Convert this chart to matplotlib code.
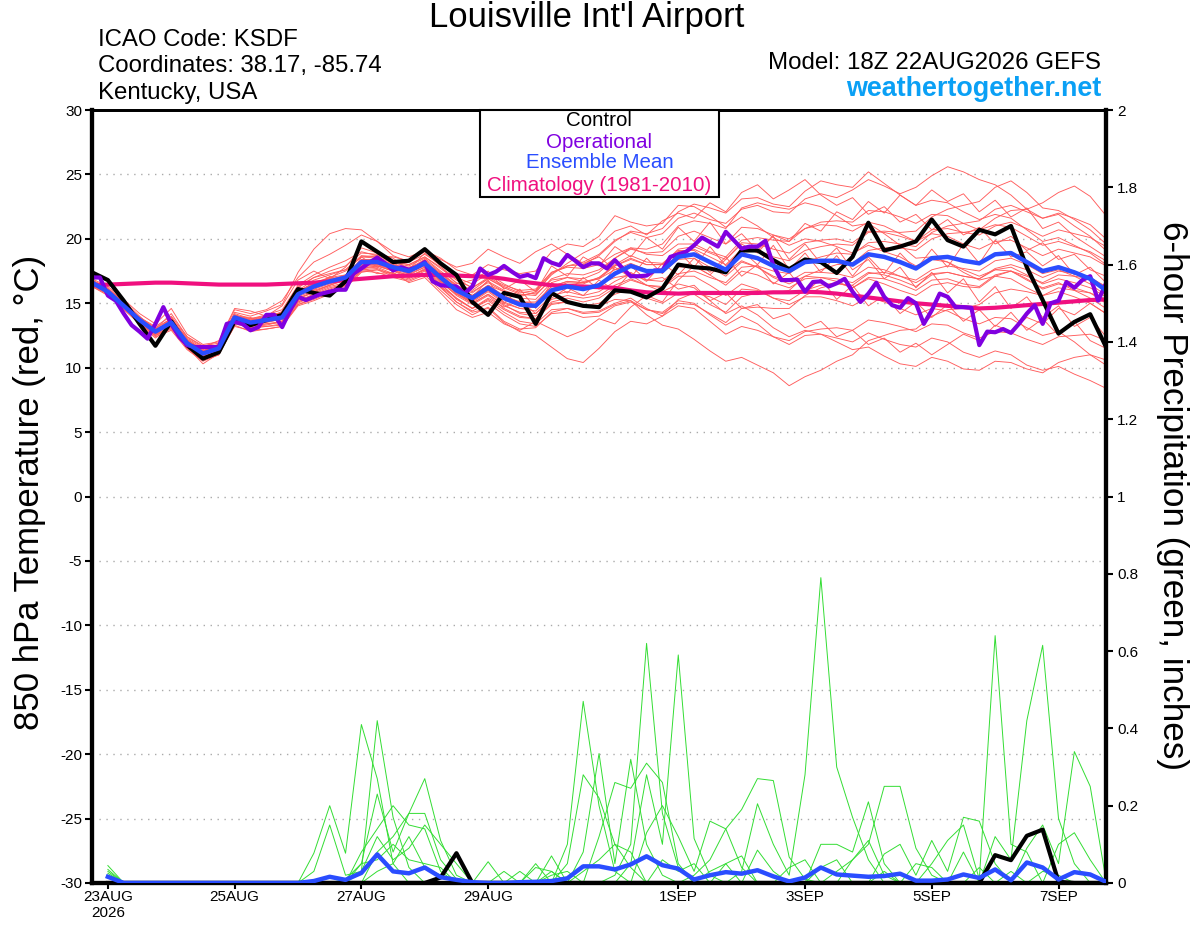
import numpy as np
import matplotlib
matplotlib.use('Agg')
import matplotlib.pyplot as plt
from matplotlib.patches import Rectangle

# plot params
plt.rcParams['font.family'] = ['Liberation Sans', 'DejaVu Sans']
plt.rcParams['axes.unicode_minus'] = False

# time axis in hours after 18Z 22AUG2026 (6-hourly, operational is 3-hourly)
tempHours = np.arange(65) * 6
opHours = np.arange(129) * 3
precHours = np.arange(1, 65) * 6

tickHours = [6, 54, 102, 150, 222, 270, 318, 366]
tickLabels = ['23AUG\n2026', '25AUG', '27AUG', '29AUG', '1SEP', '3SEP', '5SEP', '7SEP']

# 850 hPa temperature (C)
ctlTemp = [17.4, 16.8, 15.2, 13.4, 11.7, 13.6, 11.75, 10.7, 11.2, 13.6, 13.3, 13.7, 14.1,
           16.1, 15.8, 15.6, 16.7, 19.8, 19.0, 18.2, 18.3, 19.2, 18.1, 17.2, 15.1, 14.1,
           15.8, 15.5, 13.4, 15.8, 15.1, 14.8, 14.7, 16.0, 15.9, 15.45, 16.15, 18.0, 17.8,
           17.7, 17.4, 19.1, 19.1, 18.35, 17.65, 18.4, 18.2, 17.35, 18.6, 21.25, 19.1, 19.4,
           19.8, 21.5, 19.9, 19.4, 20.7, 20.35, 21.0, 17.8, 15.25, 12.65, 13.55, 14.15, 11.6]

meanTemp = [16.6, 15.9, 14.8, 13.7, 12.8, 13.5, 11.9, 11.1, 11.5, 13.9, 13.5, 13.7, 13.9,
            15.7, 16.3, 16.7, 17.0, 18.2, 18.2, 17.8, 17.5, 18.1, 17.0, 16.0, 15.4, 16.2,
            15.4, 14.9, 14.8, 16.0, 16.3, 16.1, 16.4, 17.3, 17.9, 17.5, 17.5, 18.6, 18.8,
            18.2, 17.6, 18.8, 18.5, 17.9, 17.5, 18.2, 18.3, 18.3, 18.0, 18.8, 18.6, 18.2,
            17.7, 18.5, 18.6, 18.3, 18.1, 18.8, 18.9, 18.2, 17.5, 17.8, 17.4, 16.9, 16.0]

climTemp = [16.4, 16.45, 16.5, 16.55, 16.6, 16.6, 16.55, 16.5, 16.45, 16.45, 16.45, 16.45, 16.5,
            16.55, 16.6, 16.7, 16.8, 16.9, 17.0, 17.1, 17.15, 17.2, 17.2, 17.15, 17.1, 17.05,
            16.9, 16.7, 16.55, 16.4, 16.35, 16.3, 16.25, 16.2, 16.0, 15.85, 15.8, 15.75, 15.8,
            15.8, 15.8, 15.8, 15.8, 15.85, 15.85, 15.9, 15.85, 15.75, 15.6, 15.45, 15.3, 15.15,
            15.0, 14.9, 14.8, 14.7, 14.6, 14.65, 14.75, 14.85, 14.95, 15.05, 15.15, 15.25, 15.3]

opTemp = [17.0, 17.0, 15.6, 15.2, 14.2, 13.3, 12.8, 12.25, 13.4, 14.7, 13.4, 12.4, 11.75,
          11.6, 11.6, 11.6, 11.6, 13.4, 13.55, 13.4, 12.9, 13.15, 14.1, 14.1, 13.15, 14.45,
          15.5, 15.25, 15.5, 15.75, 15.9, 16.05, 16.05, 17.3, 17.7, 18.15, 18.55, 18.1, 17.55,
          17.8, 17.6, 17.8, 18.2, 16.7, 16.4, 16.35, 16.3, 15.75, 16.3, 17.7, 17.2, 17.45,
          17.9, 17.45, 17.05, 17.2, 16.95, 18.5, 18.15, 17.95, 18.75, 18.3, 17.8, 18.1, 18.1,
          17.7, 18.35, 17.7, 17.1, 17.1, 17.15, 17.55, 17.55, 18.6, 18.8, 19.0, 19.5, 20.1,
          19.75, 19.4, 20.55, 19.9, 19.25, 19.4, 19.4, 19.85, 17.95, 16.8, 16.8, 16.85, 15.9,
          16.65, 16.7, 16.3, 16.55, 16.9, 15.9, 15.1, 15.75, 16.6, 15.5, 14.85, 14.65, 15.4,
          15.0, 13.4, 14.45, 15.75, 15.5, 14.7, 14.7, 14.65, 11.75, 12.8, 12.75, 13.0, 12.7,
          13.4, 14.2, 14.85, 13.4, 15.0, 15.2, 16.65, 16.2, 16.8, 17.1, 15.2, 16.55]

memTemp = [
    [16.8, 16.2, 15.1, 13.9, 12.6, 13.9, 12.2, 11.3, 11.6, 14.2, 13.8, 14.1, 14.5,
     16.4, 17.2, 17.8, 18.3, 19.0, 18.7, 18.2, 18.0, 18.6, 17.8, 16.9, 16.2, 16.9,
     16.3, 15.8, 16.0, 17.4, 17.9, 18.2, 18.8, 19.9, 20.5, 20.1, 20.4, 21.6, 22.0,
     21.5, 21.2, 22.3, 22.6, 22.1, 22.0, 23.1, 23.5, 23.2, 23.8, 24.6, 24.1, 23.5,
     24.0, 24.9, 25.6, 25.2, 24.6, 24.2, 23.4, 22.3, 21.6, 21.9, 21.0, 20.2, 19.1],
    [16.4, 15.7, 14.5, 13.4, 12.3, 13.2, 11.5, 10.6, 11.0, 13.5, 13.1, 13.2, 13.4,
     15.0, 15.6, 16.1, 16.5, 17.6, 17.7, 17.2, 16.9, 17.5, 16.2, 15.1, 14.4, 15.0,
     14.1, 13.4, 13.2, 14.2, 14.3, 13.9, 14.0, 14.8, 15.1, 14.5, 14.3, 15.2, 15.0,
     14.1, 13.3, 14.0, 13.4, 12.4, 11.8, 12.5, 12.6, 12.3, 12.0, 12.7, 12.2, 11.8,
     11.6, 12.3, 12.0, 11.2, 10.8, 11.3, 11.0, 10.2, 9.8, 10.1, 9.5, 9.0, 8.4],
    [16.5, 15.8, 14.9, 13.8, 13.0, 13.3, 12.1, 11.3, 11.8, 13.6, 13.3, 13.5, 13.8,
     15.3, 15.9, 16.4, 16.8, 18.0, 18.0, 17.6, 17.1, 17.6, 16.3, 15.1, 14.3, 14.6,
     13.5, 12.8, 12.5, 11.6, 10.7, 10.4, 11.5, 12.8, 13.6, 13.4, 14.0, 15.3, 15.8,
     15.5, 14.9, 16.1, 16.0, 15.4, 15.2, 16.0, 16.4, 16.6, 16.2, 17.0, 16.9, 16.5,
     16.0, 16.8, 16.9, 16.5, 16.3, 17.2, 17.5, 16.9, 16.1, 16.5, 16.2, 15.8, 15.0],
    [16.9, 16.3, 15.3, 14.2, 13.4, 14.6, 12.6, 11.8, 12.0, 14.5, 14.2, 14.5, 15.2,
     17.0, 18.2, 18.8, 19.5, 20.3, 19.8, 19.0, 18.6, 19.1, 18.5, 17.6, 17.2, 18.0,
     17.6, 17.3, 17.5, 19.0, 19.6, 19.4, 20.2, 21.8, 21.3, 21.0, 21.2, 22.6, 22.5,
     21.8, 20.9, 21.7, 21.0, 20.1, 19.5, 20.0, 19.8, 19.4, 18.9, 19.5, 19.0, 18.6,
     17.9, 18.4, 18.2, 17.6, 17.1, 17.6, 17.5, 16.8, 16.2, 16.6, 16.0, 15.4, 14.6],
    [16.3, 15.6, 14.6, 13.5, 12.5, 13.0, 11.6, 10.3, 11.1, 13.2, 12.9, 13.0, 13.2,
     14.9, 15.3, 15.8, 16.2, 17.4, 17.6, 17.1, 16.8, 17.3, 16.5, 15.4, 14.6, 15.3,
     14.5, 13.9, 13.8, 15.0, 15.1, 14.7, 14.8, 15.3, 15.2, 14.1, 13.3, 13.0, 12.2,
     11.3, 10.5, 10.8, 10.2, 9.6, 8.6, 9.3, 9.8, 10.5, 11.0, 12.1, 12.5, 12.9,
     13.0, 14.0, 14.5, 14.6, 14.9, 15.8, 16.1, 15.9, 15.6, 16.2, 16.0, 15.8, 15.3],
    [16.7, 16.0, 14.9, 13.9, 13.1, 13.8, 12.3, 11.5, 11.8, 14.0, 13.8, 14.0, 14.3,
     16.2, 17.0, 17.3, 17.6, 18.7, 18.6, 18.1, 17.9, 18.5, 17.5, 16.6, 16.0, 16.9,
     16.2, 15.7, 15.6, 16.9, 17.3, 17.2, 17.6, 18.5, 19.2, 18.9, 19.0, 20.2, 20.6,
     20.1, 19.6, 20.9, 20.8, 20.3, 20.0, 20.8, 21.1, 21.0, 20.6, 21.3, 21.0, 20.4,
     19.8, 20.4, 20.2, 19.6, 19.2, 19.8, 19.9, 19.3, 18.7, 19.2, 18.9, 18.6, 17.9],
    [16.6, 15.9, 14.7, 13.6, 12.7, 13.4, 11.8, 10.9, 11.3, 13.8, 13.4, 13.6, 13.7,
     15.4, 15.8, 16.3, 16.6, 17.9, 17.9, 17.6, 17.3, 17.8, 16.8, 15.8, 15.0, 15.7,
     14.9, 14.2, 14.0, 15.1, 15.4, 15.1, 15.4, 16.2, 16.8, 16.4, 16.3, 17.3, 17.5,
     17.0, 16.6, 17.8, 17.9, 17.5, 17.3, 18.2, 18.6, 18.9, 18.8, 19.7, 19.8, 19.6,
     19.4, 20.5, 21.0, 21.2, 21.4, 22.3, 22.6, 22.1, 21.6, 22.0, 21.6, 21.1, 20.0],
    [16.6, 16.1, 15.0, 13.9, 13.2, 14.0, 12.4, 11.7, 11.9, 14.3, 14.0, 14.4, 14.9,
     17.4, 19.2, 20.4, 20.8, 20.7, 19.8, 18.7, 18.2, 18.8, 18.0, 17.0, 16.5, 17.3,
     16.5, 15.9, 15.7, 16.8, 17.0, 16.7, 16.9, 17.6, 18.1, 17.6, 17.4, 18.4, 18.5,
     17.8, 17.1, 18.2, 17.8, 17.1, 16.7, 17.4, 17.4, 17.3, 17.0, 17.8, 17.6, 17.1,
     16.6, 17.3, 17.4, 17.1, 16.9, 17.6, 17.8, 17.2, 16.5, 16.9, 16.6, 16.2, 15.5],
    [16.4, 15.8, 14.7, 13.6, 12.6, 13.1, 11.7, 10.7, 11.4, 13.7, 13.2, 13.4, 13.5,
     15.2, 15.7, 16.0, 16.4, 17.7, 17.9, 17.5, 17.0, 17.7, 16.6, 15.7, 15.2, 16.0,
     15.3, 14.8, 14.9, 16.0, 16.4, 16.3, 16.5, 17.0, 17.2, 16.4, 15.9, 16.5, 16.2,
     15.2, 14.2, 14.8, 14.1, 13.1, 12.4, 12.9, 12.6, 12.0, 11.4, 11.6, 10.9, 10.3,
     10.1, 10.8, 10.5, 9.9, 9.8, 10.5, 10.4, 9.9, 9.6, 10.4, 10.8, 11.0, 10.6],
    [16.8, 16.1, 15.2, 14.0, 12.9, 13.7, 12.0, 11.2, 11.7, 14.1, 13.6, 13.9, 14.2,
     15.9, 16.6, 17.0, 17.2, 18.4, 18.4, 18.0, 17.7, 18.3, 17.3, 16.3, 15.8, 16.7,
     16.0, 15.6, 15.8, 17.3, 17.9, 18.0, 18.7, 19.8, 20.6, 20.4, 20.8, 22.1, 22.7,
     22.4, 22.0, 23.1, 23.2, 22.7, 22.5, 23.7, 24.5, 24.2, 24.0, 25.2, 24.3, 23.4,
     22.6, 23.0, 22.8, 22.1, 21.5, 21.9, 21.6, 20.7, 19.8, 20.1, 19.5, 18.9, 18.0],
    [16.5, 15.9, 14.8, 13.7, 12.8, 13.6, 11.9, 11.0, 11.4, 13.9, 13.6, 13.8, 14.0,
     15.9, 16.6, 16.9, 17.1, 18.3, 18.4, 18.0, 17.6, 18.1, 16.9, 15.8, 15.1, 15.9,
     15.0, 14.6, 14.7, 16.1, 16.6, 16.5, 17.0, 18.0, 18.7, 18.2, 18.1, 19.1, 19.1,
     18.2, 17.4, 18.3, 17.8, 17.0, 16.5, 17.1, 17.0, 16.7, 16.2, 16.9, 16.5, 16.0,
     15.6, 16.4, 16.6, 16.3, 16.2, 17.1, 17.5, 17.1, 16.6, 17.2, 17.1, 16.9, 16.3],
    [16.5, 15.7, 14.6, 13.5, 12.6, 13.2, 11.6, 10.8, 11.2, 13.6, 13.3, 13.4, 13.6,
     15.1, 15.6, 16.0, 16.3, 17.5, 17.4, 17.0, 16.7, 17.2, 16.0, 14.9, 14.1, 14.7,
     13.6, 13.0, 13.1, 14.3, 14.6, 14.3, 14.4, 15.0, 15.4, 14.6, 14.0, 14.8, 14.6,
     13.6, 12.6, 13.2, 12.9, 12.4, 12.1, 12.8, 13.0, 13.1, 12.9, 13.7, 13.5, 13.2,
     12.8, 13.4, 13.3, 12.7, 12.3, 12.8, 12.7, 12.2, 11.8, 12.4, 12.5, 12.6, 12.1],
    [16.7, 16.0, 14.9, 13.8, 12.9, 13.5, 12.0, 11.2, 11.6, 14.0, 13.5, 13.8, 14.1,
     16.0, 16.8, 17.2, 17.6, 18.6, 18.5, 18.0, 17.7, 18.4, 17.4, 16.4, 15.9, 16.6,
     15.9, 15.4, 15.3, 16.6, 17.0, 16.9, 17.4, 18.5, 19.3, 19.2, 19.6, 21.0, 21.4,
     21.2, 20.8, 22.4, 22.8, 22.5, 22.3, 22.8, 22.5, 21.8, 21.0, 21.2, 20.4, 19.5,
     18.5, 18.6, 18.2, 17.4, 16.8, 17.1, 16.9, 16.2, 15.6, 15.9, 15.5, 15.0, 14.2],
    [16.6, 16.0, 14.9, 13.8, 12.9, 13.6, 12.1, 11.3, 11.7, 14.1, 13.7, 13.9, 14.1,
     15.8, 16.4, 16.7, 17.0, 18.2, 18.2, 17.8, 17.6, 18.2, 17.2, 16.2, 15.6, 16.3,
     15.5, 15.1, 15.0, 16.3, 16.7, 16.6, 16.9, 17.9, 18.5, 18.0, 18.0, 19.2, 19.4,
     18.9, 18.4, 19.7, 19.6, 19.2, 18.9, 19.7, 19.9, 20.0, 19.7, 20.6, 20.5, 20.2,
     19.8, 20.7, 20.8, 20.5, 20.3, 21.0, 21.3, 20.8, 20.2, 20.7, 20.4, 20.1, 19.4],
    [16.4, 15.8, 14.7, 13.6, 12.7, 13.3, 11.8, 11.0, 11.4, 13.8, 13.4, 13.6, 13.8,
     15.5, 16.0, 16.4, 16.8, 17.9, 17.9, 17.5, 17.2, 17.8, 16.7, 15.7, 15.0, 15.7,
     14.8, 14.3, 14.2, 15.3, 15.6, 15.4, 15.6, 16.4, 16.9, 16.4, 16.2, 17.1, 17.1,
     16.4, 15.6, 16.5, 16.1, 15.4, 14.9, 15.5, 15.5, 15.2, 14.8, 15.5, 15.1, 14.6,
     14.1, 14.6, 14.4, 13.8, 13.4, 13.9, 13.8, 13.1, 12.5, 12.8, 12.0, 11.0, 10.2],
    [16.6, 16.0, 14.8, 13.7, 12.9, 13.5, 11.9, 11.1, 11.6, 13.9, 13.5, 13.7, 13.9,
     15.7, 16.2, 16.6, 16.9, 18.0, 18.0, 17.7, 17.4, 18.0, 17.1, 16.2, 15.6, 16.4,
     15.6, 15.1, 15.1, 16.3, 16.7, 16.6, 17.0, 17.9, 18.4, 18.0, 18.0, 19.0, 19.2,
     18.6, 18.0, 19.2, 19.1, 18.6, 18.3, 19.1, 19.4, 19.6, 19.5, 20.5, 20.6, 20.5,
     20.6, 21.7, 22.3, 22.6, 22.9, 24.0, 24.5, 23.6, 22.4, 22.2, 21.5, 20.7, 19.6],
    [16.5, 15.8, 14.7, 13.6, 12.7, 13.4, 11.8, 10.9, 11.3, 13.7, 13.4, 13.6, 13.8,
     15.4, 15.9, 16.4, 16.9, 18.1, 18.1, 17.7, 17.4, 17.9, 16.7, 15.6, 14.9, 15.6,
     14.6, 14.0, 13.8, 14.9, 15.1, 14.8, 15.0, 15.7, 16.1, 15.4, 15.0, 15.8, 15.7,
     14.9, 14.3, 15.5, 15.8, 15.8, 16.0, 17.1, 17.6, 18.0, 18.1, 19.1, 19.3, 19.3,
     19.1, 20.0, 20.4, 20.5, 20.7, 21.6, 22.2, 22.3, 22.8, 23.6, 24.1, 23.3, 21.8],
    [16.6, 15.9, 14.8, 13.7, 12.8, 13.5, 11.9, 11.1, 11.5, 13.9, 13.5, 13.7, 13.9,
     15.6, 16.1, 16.5, 16.9, 18.1, 18.1, 17.7, 17.4, 18.0, 16.9, 15.9, 15.2, 16.0,
     15.1, 14.6, 14.4, 15.6, 15.9, 15.6, 15.9, 16.7, 17.3, 16.8, 16.7, 17.8, 17.9,
     17.2, 16.4, 17.5, 17.2, 16.6, 16.2, 16.9, 17.0, 16.9, 16.6, 17.4, 17.2, 16.8,
     16.3, 17.2, 17.4, 17.1, 16.9, 17.7, 18.0, 17.6, 17.0, 17.5, 17.3, 17.0, 16.3],
    [16.7, 16.1, 15.0, 13.9, 13.0, 13.8, 12.2, 11.4, 11.8, 14.1, 13.7, 14.0, 14.3,
     16.3, 17.0, 17.5, 17.9, 18.9, 18.8, 18.3, 18.0, 18.6, 17.7, 16.8, 16.2, 17.0,
     16.4, 16.0, 16.1, 17.4, 17.8, 17.7, 18.0, 18.8, 19.3, 18.8, 18.7, 19.6, 19.6,
     19.0, 18.6, 19.9, 20.1, 19.9, 19.8, 20.8, 21.3, 21.4, 21.3, 22.2, 22.1, 21.7,
     21.2, 21.9, 21.8, 21.2, 20.7, 21.1, 20.9, 20.2, 19.5, 19.8, 19.4, 19.0, 18.3],
    [16.3, 15.7, 14.6, 13.5, 12.5, 13.1, 11.5, 10.6, 11.0, 13.4, 13.1, 13.2, 13.3,
     14.9, 15.4, 15.9, 16.4, 17.5, 17.6, 17.3, 17.0, 17.6, 16.5, 15.3, 14.6, 15.2,
     14.3, 13.6, 13.4, 14.5, 14.6, 14.2, 14.3, 14.9, 15.2, 14.5, 14.2, 15.0, 14.9,
     14.2, 13.5, 14.6, 14.7, 14.6, 14.6, 15.6, 16.2, 16.5, 16.4, 17.3, 17.4, 17.1,
     16.8, 17.6, 17.9, 17.7, 17.5, 18.3, 18.5, 18.0, 17.3, 17.6, 17.1, 16.5, 15.6],
    [16.5, 16.0, 14.9, 13.9, 13.0, 14.2, 12.4, 11.6, 12.1, 14.6, 14.4, 14.0, 14.8,
     16.8, 17.5, 16.9, 17.8, 19.3, 18.9, 18.5, 17.6, 18.9, 17.9, 16.5, 16.8, 17.5,
     16.1, 16.8, 15.9, 17.9, 17.1, 18.6, 17.9, 19.4, 18.6, 20.1, 19.2, 20.9, 19.8,
     21.3, 19.6, 20.4, 19.1, 20.2, 18.4, 19.6, 18.1, 19.3, 17.6, 18.4, 16.9, 17.8,
     16.2, 17.4, 15.8, 16.9, 15.1, 16.3, 14.6, 15.5, 13.9, 14.8, 13.2, 13.9, 12.4],
    [16.6, 15.9, 14.7, 13.5, 12.4, 12.9, 11.4, 10.5, 11.0, 13.3, 12.8, 13.0, 13.2,
     14.8, 15.2, 15.7, 16.6, 17.8, 17.3, 17.4, 16.6, 17.0, 15.8, 14.5, 13.9, 14.3,
     13.4, 12.9, 13.6, 13.0, 12.4, 12.9, 13.8, 13.4, 14.7, 15.6, 15.1, 16.8, 17.9,
     17.2, 18.4, 19.6, 18.9, 20.3, 19.8, 21.2, 20.6, 22.1, 21.5, 22.9, 22.0, 23.4,
     22.6, 23.8, 22.9, 23.5, 22.1, 23.0, 21.7, 22.4, 20.8, 21.3, 20.2, 19.4, 18.6],
    [16.8, 16.1, 15.0, 13.8, 12.7, 13.9, 11.9, 11.2, 11.4, 14.0, 13.9, 13.5, 14.4,
     16.2, 16.0, 17.1, 16.6, 18.6, 17.8, 18.2, 17.2, 18.4, 16.7, 16.3, 15.5, 16.8,
     15.0, 16.1, 14.6, 16.6, 15.8, 17.0, 16.1, 17.8, 17.0, 18.5, 17.3, 19.0, 17.8,
     19.4, 17.9, 19.1, 18.0, 19.5, 17.6, 18.9, 17.4, 18.7, 17.1, 18.6, 17.3, 18.9,
     17.6, 19.2, 17.8, 19.6, 18.1, 19.9, 18.6, 19.0, 17.9, 18.7, 17.2, 17.8, 16.6],
    [16.5, 15.8, 14.8, 13.8, 12.9, 13.7, 12.0, 11.0, 11.6, 14.0, 13.6, 13.9, 14.2,
     15.9, 16.5, 17.0, 17.5, 18.6, 18.7, 18.6, 18.3, 19.0, 18.4, 17.8, 18.1, 19.2,
     18.6, 18.1, 19.0, 19.6, 18.8, 18.1, 18.6, 17.6, 17.9, 16.8, 17.0, 16.1, 16.4,
     15.2, 15.8, 14.6, 14.9, 13.8, 14.2, 13.1, 13.6, 12.4, 12.9, 11.8, 12.3, 11.2,
     11.9, 11.0, 11.8, 12.6, 12.1, 13.3, 12.8, 13.9, 13.4, 14.6, 14.1, 15.0, 14.2],
    [16.6, 16.0, 14.9, 13.7, 12.8, 13.6, 12.1, 11.3, 11.7, 14.0, 13.7, 13.8, 14.0,
     15.8, 16.5, 16.8, 17.2, 18.4, 18.3, 17.9, 17.8, 18.2, 17.3, 16.4, 15.6, 16.4,
     15.9, 15.5, 15.9, 17.2, 18.1, 18.9, 19.5, 20.6, 21.0, 20.3, 21.4, 22.0, 21.6,
     22.8, 22.1, 23.6, 24.2, 23.1, 23.8, 24.6, 23.4, 22.6, 23.2, 21.9, 22.5, 21.3,
     21.9, 20.7, 21.5, 20.3, 20.9, 19.6, 20.2, 19.1, 19.7, 18.4, 18.8, 17.6, 17.1],
    [16.4, 15.8, 14.6, 13.4, 12.5, 13.2, 11.6, 10.9, 11.2, 13.6, 13.2, 13.3, 13.6,
     15.1, 15.7, 16.2, 16.5, 17.7, 17.8, 17.3, 17.1, 17.6, 16.3, 15.4, 14.6, 15.4,
     14.7, 15.2, 14.2, 15.4, 16.2, 15.6, 16.8, 16.0, 17.4, 16.7, 18.1, 17.2, 18.5,
     17.4, 18.6, 17.1, 18.0, 16.5, 17.4, 15.8, 16.9, 15.3, 16.4, 14.8, 15.6, 14.2,
     15.1, 13.9, 14.9, 13.6, 14.5, 13.2, 14.3, 12.9, 13.8, 12.5, 13.6, 12.1, 11.5],
]

# 6-hour precipitation (inches), first value valid 00Z 23AUG
meanPrec = [0.016, 0, 0, 0, 0, 0, 0, 0, 0, 0, 0, 0, 0, 0.005, 0.016, 0.008,
            0.026, 0.074, 0.03, 0.025, 0.04, 0.015, 0.008, 0.002, 0, 0, 0.002, 0.003, 0.005, 0.012, 0.043, 0.043,
            0.035, 0.048, 0.069, 0.046, 0.037, 0.009, 0.02, 0.028, 0.024, 0.033, 0.017, 0.004, 0.014, 0.04, 0.022, 0.019,
            0.016, 0.018, 0.024, 0.006, 0.006, 0.009, 0.022, 0.013, 0.035, 0.007, 0.053, 0.04, 0.009, 0.028, 0.022, 0.003]

# sparse: step number -> amount, everything else is zero
ctlPrec = {22: 0.014, 23: 0.077, 57: 0.072, 58: 0.059, 59: 0.122, 60: 0.138, 61: 0.003}

memPrec = [
    {1: 0.045, 14: 0.077, 15: 0.2, 16: 0.077, 17: 0.41, 18: 0.27, 19: 0.05, 30: 0.1, 31: 0.47, 32: 0.2, 33: 0.03},
    {1: 0.035, 14: 0.03, 15: 0.15, 16: 0.02, 17: 0.03, 18: 0.42, 19: 0.17, 20: 0.04, 30: 0.05, 31: 0.28,
     32: 0.22, 33: 0.1, 34: 0.04},
    {1: 0.03, 17: 0.05, 18: 0.23, 19: 0.08, 20: 0.18, 21: 0.27, 22: 0.11, 23: 0.02, 25: 0.055, 31: 0.08,
     32: 0.335, 33: 0.05, 34: 0.32, 35: 0.1, 36: 0.02},
    {1: 0.025, 17: 0.08, 18: 0.14, 19: 0.2, 20: 0.15, 21: 0.14, 22: 0.03, 27: 0.03, 32: 0.12, 33: 0.26,
     34: 0.245, 35: 0.31, 36: 0.26, 37: 0.05},
    {1: 0.02, 18: 0.08, 19: 0.12, 20: 0.18, 21: 0.18, 22: 0.06, 23: 0.01, 28: 0.05, 33: 0.02, 34: 0.1,
     35: 0.62, 36: 0.18, 37: 0.04},
    {17: 0.03, 18: 0.12, 19: 0.06, 20: 0.09, 21: 0.15, 22: 0.1, 23: 0.05, 29: 0.07, 34: 0.05, 35: 0.28,
     36: 0.1, 37: 0.59, 38: 0.115, 39: 0.02},
    {16: 0.01, 17: 0.05, 18: 0.06, 19: 0.1, 20: 0.06, 21: 0.05, 22: 0.04, 29: 0.02, 30: 0.03, 35: 0.13,
     36: 0.2, 37: 0.12, 38: 0.03, 39: 0.16, 40: 0.14, 41: 0.04},
    {18: 0.03, 19: 0.05, 20: 0.12, 21: 0.04, 22: 0.02, 26: 0.03, 38: 0.02, 39: 0.06, 40: 0.14, 41: 0.19,
     42: 0.27, 43: 0.265, 44: 0.067, 45: 0.01},
    {29: 0.03, 41: 0.03, 42: 0.205, 43: 0.1, 44: 0.02, 45: 0.28, 46: 0.79, 47: 0.3, 48: 0.17, 49: 0.06},
    {42: 0.085, 43: 0.03, 46: 0.1, 47: 0.1, 48: 0.08, 49: 0.21, 50: 0.05},
    {47: 0.03, 48: 0.06, 49: 0.1, 50: 0.25, 51: 0.25, 52: 0.09, 53: 0.02},
    {50: 0.075, 51: 0.1, 52: 0.02, 53: 0.11, 54: 0.03, 55: 0.17, 56: 0.16, 57: 0.05},
    {53: 0.05, 54: 0.11, 55: 0.15, 56: 0.01, 57: 0.64, 58: 0.1, 59: 0.08},
    {57: 0.12, 58: 0.06, 59: 0.42, 60: 0.615, 61: 0.167, 62: 0.05},
    {59: 0.09, 60: 0.15, 61: 0.05, 62: 0.34, 63: 0.25, 64: 0.007},
    {28: 0.04, 29: 0.03, 61: 0.1, 62: 0.13, 63: 0.06},
    {40: 0.05, 44: 0.04, 45: 0.06, 50: 0.03, 56: 0.04, 58: 0.03},
    {36: 0.06, 37: 0.03, 38: 0.05, 48: 0.06, 49: 0.11, 50: 0.02},
    {39: 0.03, 40: 0.05, 41: 0.07, 52: 0.05, 53: 0.04, 55: 0.08},
    {31: 0.03, 32: 0.06, 33: 0.1, 34: 0.08, 46: 0.04, 47: 0.06, 60: 0.03, 61: 0.02},
]


def sparseToArr(d):
    arr = np.zeros(64)
    for step, val in d.items():
        arr[step - 1] = val
    return arr


# colours
redCol = '#ff5c5c'
greenCol = '#33dd33'
opCol = '#8000e0'
meanCol = '#2a4dff'
climCol = '#f0107f'

fig = plt.figure(figsize=(12, 9.27), dpi=100)
ax = fig.add_axes([0.0767, 0.0475, 0.845, 0.8338])
ax2 = ax.twinx()

# temperature panel
for mem in memTemp:
    ax.plot(tempHours, mem, color=redCol, lw=0.65, zorder=2)
ax.plot(tempHours, climTemp, color=climCol, lw=3, zorder=3)
ax.plot(tempHours, ctlTemp, color='black', lw=3, zorder=4)
ax.plot(opHours, opTemp, color=opCol, lw=3, zorder=5)
ax.plot(tempHours, meanTemp, color=meanCol, lw=3.2, zorder=6)

# precip panel
for mem in memPrec:
    ax2.plot(precHours, sparseToArr(mem), color=greenCol, lw=0.7, zorder=2)
ax2.plot(precHours, sparseToArr(ctlPrec), color='black', lw=3, zorder=4)
ax2.plot(precHours, meanPrec, color=meanCol, lw=3.2, zorder=6)

ax.set_xlim(0, 384)
ax.set_ylim(-30, 30)
ax2.set_ylim(0, 2)
ax.set_yticks(np.arange(-30, 31, 5))
ax2.set_yticks(np.arange(0, 2.01, 0.2))
ax2.set_yticklabels(['0', '0.2', '0.4', '0.6', '0.8', '1', '1.2', '1.4', '1.6', '1.8', '2'])
ax.set_xticks(tickHours)
ax.set_xticklabels(tickLabels)

ax.yaxis.grid(True, linestyle=(0, (1, 4)), color='#aaaaaa', lw=1)
ax.set_axisbelow(True)

for a in (ax, ax2):
    for side in ['left', 'right', 'bottom']:
        a.spines[side].set_linewidth(3)
    a.spines['top'].set_linewidth(2)
ax.tick_params(axis='both', direction='out', length=5, width=1.5, labelsize=11, pad=2)
ax2.tick_params(axis='y', direction='out', length=5, width=1.5, labelsize=11, pad=3)
ax.tick_params(axis='x', length=4, pad=1)

# axis titles
fig.text(0.025, 0.469, '850 hPa Temperature (red, °C)', rotation=90, ha='center', va='center', fontsize=25)
fig.text(0.9767, 0.466, '6-hour Precipitation (green, inches)', rotation=270, ha='center', va='center',
         fontsize=25.3)

# header
fig.text(0.4885, 0.9806, "Louisville Int'l Airport", ha='center', va='center', fontsize=24.9)
fig.text(0.0817, 0.9569, 'ICAO Code: KSDF', ha='left', va='center', fontsize=17.3)
fig.text(0.0817, 0.9288, 'Coordinates: 38.17, -85.74', ha='left', va='center', fontsize=17.3)
fig.text(0.0817, 0.8997, 'Kentucky, USA', ha='left', va='center', fontsize=17.3)
fig.text(0.9175, 0.932, 'Model: 18Z 22AUG2026 GEFS', ha='right', va='center', fontsize=17.4)
fig.text(0.9175, 0.904, 'weathertogether.net', ha='right', va='center', fontsize=19.4,
         fontweight='bold', color='#0aa0f5')

# legend box
fig.patches.append(Rectangle((0.4, 0.7875), 0.199, 0.0938, transform=fig.transFigure,
                             facecolor='white', edgecolor='black', lw=1.5, zorder=5))
legItems = [('Control', 'black'), ('Operational', opCol), ('Ensemble Mean', meanCol),
            ('Climatology (1981-2010)', climCol)]
legY = [0.8695, 0.8468, 0.8242, 0.8004]
for (txt, col), yy in zip(legItems, legY):
    fig.text(0.4995, yy, txt, ha='center', va='center', fontsize=14.8, color=col, zorder=6)

fig.savefig('out.png', dpi=100)
